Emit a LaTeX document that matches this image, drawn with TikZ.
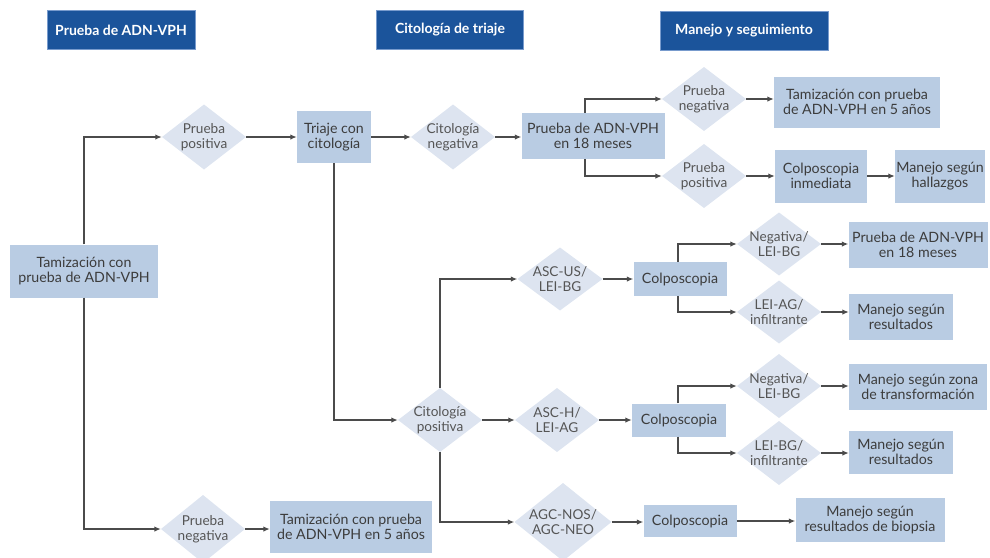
\documentclass[tikz,border=0pt]{standalone}
\usepackage{fontspec}
\setmainfont{Lato}
\usetikzlibrary{arrows.meta,calc}
\definecolor{hdr}{RGB}{27,84,155}
\definecolor{hdredge}{RGB}{120,155,205}
\definecolor{boxc}{RGB}{185,204,227}
\definecolor{diac}{RGB}{221,228,240}
\definecolor{txt}{RGB}{60,60,60}
\definecolor{dtxt}{RGB}{85,85,85}
\definecolor{ln}{RGB}{75,75,75}
\begin{document}
\begin{tikzpicture}[x=1pt,y=-1pt,
 font=\fontsize{14.2}{15}\selectfont,
 hdrbox/.style={fill=hdr, draw=hdredge, line width=0.6pt, text=white, font=\fontsize{14}{15}\selectfont\bfseries, minimum height=39pt, inner sep=0pt},
 pbox/.style={fill=boxc, text=txt, align=center, inner sep=0pt},
 dia/.style={align=center, text=dtxt, inner sep=0pt, font=\fontsize{13.6}{14.5}\selectfont, path picture={\fill[diac] (path picture bounding box.west) -- (path picture bounding box.north) -- (path picture bounding box.east) -- (path picture bounding box.south) -- cycle;}},
 arr/.style={draw=ln, line width=1.4pt, -{Latex[length=6.5pt,width=5.5pt]}},
]
\useasboundingbox (0,0) rectangle (990,557);

% headers
\node[hdrbox, minimum width=148pt] (h1) at (121,30) {Prueba de ADN-VPH};
\node[hdrbox, minimum width=147pt] (h2) at (450,30) {Citología de triaje};
\node[hdrbox, minimum width=168pt] (h3) at (744,31) {Manejo y seguimiento};

% nodes
\node[pbox, minimum width=148pt, minimum height=53pt] (tam) at (84,271) {Tamización con\\prueba de ADN-VPH};
\node[dia, minimum width=84pt, minimum height=65pt] (pp1) at (204,137) {Prueba\\positiva};
\node[pbox, minimum width=74pt, minimum height=52pt] (tri) at (334,137) {Triaje con\\citología};
\node[dia, minimum width=84pt, minimum height=65pt] (cneg) at (453,137) {Citología\\negativa};
\node[pbox, minimum width=143pt, minimum height=46pt] (p18) at (593,136) {Prueba de ADN-VPH\\en 18 meses};
\node[dia, minimum width=84pt, minimum height=64pt] (pneg2) at (704,99) {Prueba\\negativa};
\node[pbox, minimum width=166pt, minimum height=51pt] (tam5a) at (857,102) {Tamización con prueba\\de ADN-VPH en 5 años};
\node[dia, minimum width=84pt, minimum height=64pt] (ppos2) at (704,176) {Prueba\\positiva};
\node[pbox, minimum width=92pt, minimum height=53pt] (colpi) at (821,176) {Colposcopia\\inmediata};
\node[pbox, minimum width=90pt, minimum height=53pt] (mhal) at (940,176) {Manejo según\\hallazgos};

\node[dia, minimum width=84pt, minimum height=64pt] (cpos) at (440,420) {Citología\\positiva};
\node[dia, minimum width=85pt, minimum height=63pt] (ascus) at (560,279) {ASC-US/\\LEI-BG};
\node[pbox, minimum width=93pt, minimum height=34pt] (colp1) at (680,279) {Colposcopia};
\node[dia, minimum width=84pt, minimum height=63pt] (neg1) at (779,244) {Negativa/\\LEI-BG};
\node[pbox, minimum width=139pt, minimum height=46pt] (p18b) at (918,245) {Prueba de ADN-VPH\\en 18 meses};
\node[dia, minimum width=84pt, minimum height=63pt] (leiag) at (779,312) {LEI-AG/\\infiltrante};
\node[pbox, minimum width=104pt, minimum height=46pt] (mres1) at (901,317) {Manejo según\\resultados};

\node[dia, minimum width=84pt, minimum height=64pt] (asch) at (557,420) {ASC-H/\\LEI-AG};
\node[pbox, minimum width=94pt, minimum height=33pt] (colp2) at (679,420) {Colposcopia};
\node[dia, minimum width=84pt, minimum height=64pt] (neg2) at (779,386) {Negativa/\\LEI-BG};
\node[pbox, minimum width=138pt, minimum height=46pt] (mzona) at (918,387) {Manejo según zona\\de transformación};
\node[dia, minimum width=84pt, minimum height=64pt] (leibg) at (779,453) {LEI-BG/\\infiltrante};
\node[pbox, minimum width=104pt, minimum height=43pt] (mres2) at (901,452) {Manejo según\\resultados};

\node[dia, minimum width=97pt, minimum height=78pt] (agc) at (563,522) {AGC-NOS/\\AGC-NEO};
\node[pbox, minimum width=93pt, minimum height=32pt] (colp3) at (690,521) {Colposcopia};
\node[pbox, minimum width=149pt, minimum height=44pt] (mbio) at (870,520) {Manejo según\\resultados de biopsia};

\node[dia, minimum width=84pt, minimum height=68pt] (pn1) at (203,529) {Prueba\\negativa};
\node[pbox, minimum width=162pt, minimum height=52pt] (tam5b) at (351,527) {Tamización con prueba\\de ADN-VPH en 5 años};

% connectors
\draw[arr] (tam.north) |- (pp1.west);
\draw[arr] (tam.south) |- (pn1.west);
\draw[arr] (pp1.east) -- (tri.west);
\draw[arr] (tri.east) -- (cneg.west);
\draw[arr] (tri.south) |- (cpos.west);
\draw[arr] (cneg.east) -- (cneg.east -| p18.west);
\draw[arr] ([xshift=-8pt]p18.north) |- (pneg2.west);
\draw[arr] ([xshift=-8pt]p18.south) |- (ppos2.west);
\draw[arr] (pneg2.east) -- (pneg2.east -| tam5a.west);
\draw[arr] (ppos2.east) -- (ppos2.east -| colpi.west);
\draw[arr] (colpi.east) -- (colpi.east -| mhal.west);

\draw[arr] (cpos.north) |- (ascus.west);
\draw[arr] (cpos.east) -- (asch.west);
\draw[arr] (cpos.south) |- (agc.west);
\draw[arr] (ascus.east) -- (colp1.west);
\draw[arr] ([xshift=-2pt]colp1.north) |- (neg1.west);
\draw[arr] ([xshift=-2pt]colp1.south) |- (leiag.west);
\draw[arr] (neg1.east) -- (neg1.east -| p18b.west);
\draw[arr] (leiag.east) -- (leiag.east -| mres1.west);
\draw[arr] (asch.east) -- (colp2.west);
\draw[arr] ([xshift=-1pt]colp2.north) |- (neg2.west);
\draw[arr] ([xshift=-1pt]colp2.south) |- (leibg.west);
\draw[arr] (neg2.east) -- (neg2.east -| mzona.west);
\draw[arr] (leibg.east) -- (leibg.east -| mres2.west);
\draw[arr] (agc.east) -- (agc.east -| colp3.west);
\draw[arr] (colp3.east) -- (colp3.east -| mbio.west);
\draw[arr] (pn1.east) -- (pn1.east -| tam5b.west);
\end{tikzpicture}
\end{document}
